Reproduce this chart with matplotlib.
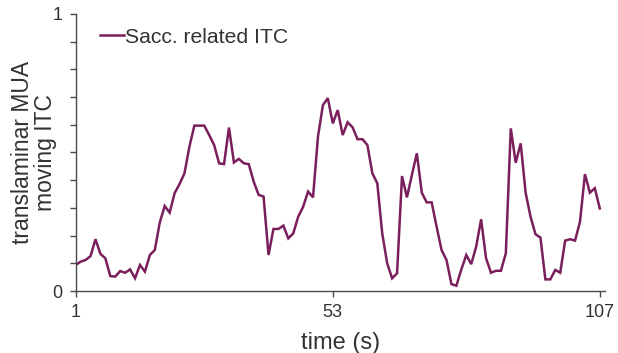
import matplotlib
matplotlib.use("Agg")
import matplotlib.pyplot as plt
import numpy as np

plt.rcParams["font.family"] = ["Liberation Sans", "DejaVu Sans"]

# moving ITC, one value per second
time_s = np.arange(1, 108)
itc = [
    0.094, 0.106, 0.112, 0.126, 0.187, 0.134, 0.118, 0.054, 0.052, 0.072,
    0.066, 0.078, 0.046, 0.094, 0.070, 0.130, 0.148, 0.247, 0.307, 0.283,
    0.353, 0.386, 0.425, 0.521, 0.597, 0.597, 0.597, 0.563, 0.527, 0.461,
    0.458, 0.590, 0.464, 0.477, 0.461, 0.458, 0.395, 0.347, 0.341, 0.130,
    0.224, 0.224, 0.236, 0.190, 0.208, 0.268, 0.304, 0.359, 0.338, 0.557,
    0.671, 0.696, 0.605, 0.653, 0.563, 0.609, 0.591, 0.548, 0.548, 0.527,
    0.425, 0.389, 0.208, 0.100, 0.046, 0.064, 0.415, 0.338, 0.419, 0.497,
    0.355, 0.320, 0.320, 0.232, 0.148, 0.112, 0.025, 0.019, 0.078, 0.130,
    0.097, 0.160, 0.259, 0.118, 0.066, 0.073, 0.073, 0.136, 0.587, 0.463,
    0.533, 0.355, 0.268, 0.205, 0.193, 0.042, 0.042, 0.076, 0.066, 0.182,
    0.187, 0.182, 0.250, 0.422, 0.355, 0.371, 0.298,
]
x_ticks = [1, 53, 107]
y_ticks = np.round(np.arange(0, 1.01, 0.1), 1)
y_ticklabels = ["0"] + [""] * 9 + ["1"]

LINE = "#7a1f5c"
AXIS = "#4a4a4a"
TEXT = "#333333"

fig = plt.figure(figsize=(6.18, 3.53), dpi=100)
ax = fig.add_axes([0.1225, 0.1756, 0.856, 0.7848])

ax.plot(time_s, itc, color=LINE, linewidth=1.8, label="Sacc. related ITC",
        solid_joinstyle="miter")

ax.set_xlim(1, 108)
ax.set_ylim(0, 1)
ax.set_xticks(x_ticks)
ax.set_xticklabels([str(t) for t in x_ticks])
ax.set_yticks(y_ticks)
ax.set_yticklabels(y_ticklabels)

for side in ("top", "right"):
    ax.spines[side].set_visible(False)
for side in ("left", "bottom"):
    ax.spines[side].set_color(AXIS)
    ax.spines[side].set_linewidth(1.0)

ax.tick_params(axis="both", direction="out", length=4, width=1.0,
               color=AXIS, labelcolor=TEXT, labelsize=13)
ax.tick_params(axis="x", pad=5.5)
ax.tick_params(axis="y", pad=5.5)

ax.set_xlabel("time (s)", fontsize=17, color=TEXT, labelpad=8)
ax.set_ylabel("translaminar MUA\nmoving ITC", fontsize=16.5, color=TEXT,
              labelpad=-3.5, linespacing=1.0)

leg = ax.legend(loc="upper left", bbox_to_anchor=(0.02, 1.0), frameon=False,
                fontsize=15.2, handlelength=1.15, handletextpad=0.05,
                borderaxespad=0.25)
for txt in leg.get_texts():
    txt.set_color(TEXT)

fig.savefig("out.png", dpi=100, facecolor="white")
